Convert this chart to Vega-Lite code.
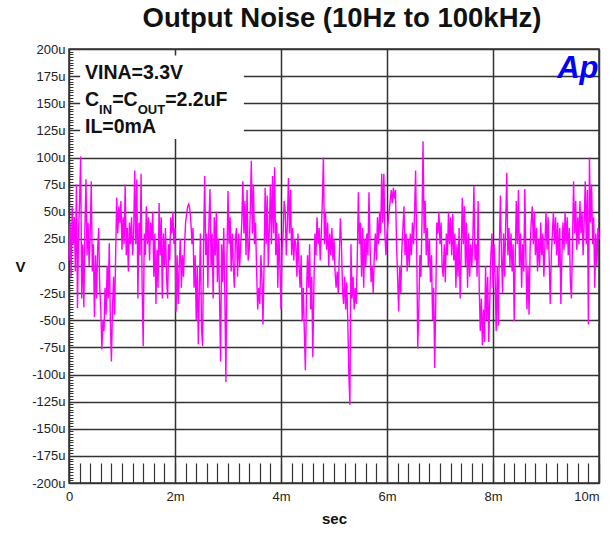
{
"$schema": "https://vega.github.io/schema/vega-lite/v6.json",
"width": 530, "height": 434,
"autosize": {"type": "none"},
"padding": {"left": 69, "top": 49, "right": 10, "bottom": 50},
"background": "white",
"title": {"text": "Output Noise (10Hz to 100kHz)", "font": "Liberation Sans", "fontSize": 27.5, "fontWeight": "bold", "color": "#111", "anchor": "middle", "frame": "group", "dx": 8, "baseline": "alphabetic", "offset": -11},
"config": {"view": {"stroke": "#333", "strokeWidth": 1.5}, "axis": {"labelFont": "Liberation Sans", "titleFont": "Liberation Sans", "labelColor": "#222", "titleColor": "#111"}},
"layer": [
{"data": {"values": [
{"t":0.00,"v":5},{"t":0.02,"v":40},{"t":0.04,"v":-10},{"t":0.06,"v":55},{"t":0.08,"v":20},{"t":0.10,"v":45},{"t":0.12,"v":-5},{"t":0.14,"v":75},{"t":0.16,"v":-39},{"t":0.18,"v":30},
{"t":0.20,"v":60},{"t":0.22,"v":101},{"t":0.24,"v":-30},{"t":0.26,"v":20},{"t":0.28,"v":-38},{"t":0.30,"v":35},{"t":0.32,"v":80},{"t":0.34,"v":10},{"t":0.36,"v":40},{"t":0.38,"v":0},
{"t":0.40,"v":30},{"t":0.42,"v":78},{"t":0.44,"v":-5},{"t":0.46,"v":20},{"t":0.48,"v":-47},{"t":0.50,"v":10},{"t":0.52,"v":-30},{"t":0.54,"v":15},{"t":0.56,"v":35},{"t":0.58,"v":-20},
{"t":0.60,"v":-40},{"t":0.62,"v":-77},{"t":0.64,"v":-50},{"t":0.66,"v":-60},{"t":0.68,"v":-20},{"t":0.70,"v":-45},{"t":0.72,"v":0},{"t":0.74,"v":-30},{"t":0.76,"v":21},{"t":0.78,"v":-50},
{"t":0.80,"v":-88},{"t":0.82,"v":-40},{"t":0.84,"v":-10},{"t":0.86,"v":-45},{"t":0.88,"v":10},{"t":0.90,"v":63},{"t":0.92,"v":30},{"t":0.94,"v":55},{"t":0.96,"v":40},{"t":0.98,"v":60},
{"t":1.00,"v":15},{"t":1.02,"v":45},{"t":1.04,"v":20},{"t":1.06,"v":75},{"t":1.08,"v":10},{"t":1.10,"v":35},{"t":1.12,"v":-5},{"t":1.14,"v":40},{"t":1.16,"v":20},{"t":1.18,"v":45},
{"t":1.20,"v":10},{"t":1.22,"v":30},{"t":1.24,"v":88},{"t":1.26,"v":20},{"t":1.28,"v":80},{"t":1.30,"v":-30},{"t":1.32,"v":40},{"t":1.34,"v":10},{"t":1.36,"v":85},{"t":1.38,"v":-20},
{"t":1.40,"v":-74},{"t":1.42,"v":30},{"t":1.44,"v":10},{"t":1.46,"v":55},{"t":1.48,"v":20},{"t":1.50,"v":45},{"t":1.52,"v":5},{"t":1.54,"v":40},{"t":1.56,"v":25},{"t":1.58,"v":50},
{"t":1.60,"v":-10},{"t":1.62,"v":30},{"t":1.64,"v":-35},{"t":1.66,"v":15},{"t":1.68,"v":-20},{"t":1.70,"v":58},{"t":1.72,"v":10},{"t":1.74,"v":45},{"t":1.76,"v":-30},{"t":1.78,"v":30},
{"t":1.80,"v":0},{"t":1.82,"v":35},{"t":1.84,"v":-10},{"t":1.86,"v":-30},{"t":1.88,"v":20},{"t":1.90,"v":5},{"t":1.92,"v":45},{"t":1.94,"v":30},{"t":1.96,"v":50},{"t":1.98,"v":20},
{"t":2.00,"v":35},{"t":2.02,"v":-42},{"t":2.04,"v":10},{"t":2.06,"v":-35},{"t":2.08,"v":0},{"t":2.10,"v":25},{"t":2.12,"v":-20},{"t":2.14,"v":10},{"t":2.16,"v":-10},{"t":2.18,"v":20},
{"t":2.20,"v":40},{"t":2.22,"v":48},{"t":2.24,"v":55},{"t":2.26,"v":57},{"t":2.28,"v":52},{"t":2.30,"v":40},{"t":2.32,"v":20},{"t":2.34,"v":35},{"t":2.36,"v":-20},{"t":2.38,"v":10},
{"t":2.40,"v":-50},{"t":2.42,"v":0},{"t":2.44,"v":-72},{"t":2.46,"v":-20},{"t":2.48,"v":30},{"t":2.50,"v":-57},{"t":2.52,"v":-74},{"t":2.54,"v":20},{"t":2.56,"v":83},{"t":2.58,"v":10},
{"t":2.60,"v":30},{"t":2.62,"v":-20},{"t":2.64,"v":40},{"t":2.66,"v":71},{"t":2.68,"v":0},{"t":2.70,"v":30},{"t":2.72,"v":-30},{"t":2.74,"v":45},{"t":2.76,"v":10},{"t":2.78,"v":50},
{"t":2.80,"v":-15},{"t":2.82,"v":25},{"t":2.84,"v":-30},{"t":2.86,"v":-88},{"t":2.88,"v":20},{"t":2.90,"v":-15},{"t":2.92,"v":35},{"t":2.94,"v":-25},{"t":2.96,"v":-107},{"t":2.98,"v":10},
{"t":3.00,"v":69},{"t":3.02,"v":20},{"t":3.04,"v":45},{"t":3.06,"v":-5},{"t":3.08,"v":30},{"t":3.10,"v":0},{"t":3.12,"v":-20},{"t":3.14,"v":25},{"t":3.16,"v":35},{"t":3.18,"v":-10},
{"t":3.20,"v":30},{"t":3.22,"v":0},{"t":3.24,"v":20},{"t":3.26,"v":40},{"t":3.28,"v":78},{"t":3.30,"v":30},{"t":3.32,"v":60},{"t":3.34,"v":10},{"t":3.36,"v":70},{"t":3.38,"v":5},
{"t":3.40,"v":15},{"t":3.42,"v":50},{"t":3.44,"v":97},{"t":3.46,"v":30},{"t":3.48,"v":75},{"t":3.50,"v":20},{"t":3.52,"v":40},{"t":3.54,"v":-5},{"t":3.56,"v":-40},{"t":3.58,"v":-20},
{"t":3.60,"v":-35},{"t":3.62,"v":10},{"t":3.64,"v":-10},{"t":3.66,"v":-54},{"t":3.68,"v":0},{"t":3.70,"v":72},{"t":3.72,"v":20},{"t":3.74,"v":65},{"t":3.76,"v":0},{"t":3.78,"v":35},
{"t":3.80,"v":75},{"t":3.82,"v":20},{"t":3.84,"v":83},{"t":3.86,"v":30},{"t":3.88,"v":91},{"t":3.90,"v":10},{"t":3.92,"v":40},{"t":3.94,"v":-20},{"t":3.96,"v":30},{"t":3.98,"v":0},
{"t":4.00,"v":-40},{"t":4.02,"v":15},{"t":4.04,"v":30},{"t":4.06,"v":60},{"t":4.08,"v":50},{"t":4.10,"v":10},{"t":4.12,"v":40},{"t":4.14,"v":81},{"t":4.16,"v":30},{"t":4.18,"v":70},
{"t":4.20,"v":10},{"t":4.22,"v":35},{"t":4.24,"v":5},{"t":4.26,"v":25},{"t":4.28,"v":20},{"t":4.30,"v":-10},{"t":4.32,"v":30},{"t":4.34,"v":0},{"t":4.36,"v":-20},{"t":4.38,"v":10},
{"t":4.40,"v":-51},{"t":4.42,"v":-20},{"t":4.44,"v":-60},{"t":4.46,"v":-96},{"t":4.48,"v":-30},{"t":4.50,"v":10},{"t":4.52,"v":-20},{"t":4.54,"v":20},{"t":4.56,"v":-40},{"t":4.58,"v":-10},
{"t":4.60,"v":-84},{"t":4.62,"v":-20},{"t":4.64,"v":30},{"t":4.66,"v":10},{"t":4.68,"v":45},{"t":4.70,"v":20},{"t":4.72,"v":35},{"t":4.74,"v":5},{"t":4.76,"v":30},{"t":4.78,"v":60},
{"t":4.80,"v":100},{"t":4.82,"v":20},{"t":4.84,"v":50},{"t":4.86,"v":15},{"t":4.88,"v":40},{"t":4.90,"v":0},{"t":4.92,"v":30},{"t":4.94,"v":10},{"t":4.96,"v":35},{"t":4.98,"v":5},
{"t":5.00,"v":25},{"t":5.02,"v":-5},{"t":5.04,"v":-20},{"t":5.06,"v":-5},{"t":5.08,"v":-25},{"t":5.10,"v":10},{"t":5.12,"v":44},{"t":5.14,"v":20},{"t":5.16,"v":-20},{"t":5.18,"v":-35},
{"t":5.20,"v":-10},{"t":5.22,"v":-40},{"t":5.24,"v":-15},{"t":5.26,"v":-50},{"t":5.28,"v":-100},{"t":5.30,"v":-128},{"t":5.32,"v":20},{"t":5.34,"v":-30},{"t":5.36,"v":-10},{"t":5.38,"v":-40},
{"t":5.40,"v":-20},{"t":5.42,"v":-35},{"t":5.44,"v":10},{"t":5.46,"v":68},{"t":5.48,"v":20},{"t":5.50,"v":40},{"t":5.52,"v":-10},{"t":5.54,"v":35},{"t":5.56,"v":-20},{"t":5.58,"v":25},
{"t":5.60,"v":0},{"t":5.62,"v":30},{"t":5.64,"v":10},{"t":5.66,"v":68},{"t":5.68,"v":20},{"t":5.70,"v":-15},{"t":5.72,"v":0},{"t":5.74,"v":-25},{"t":5.76,"v":10},{"t":5.78,"v":30},
{"t":5.80,"v":5},{"t":5.82,"v":45},{"t":5.84,"v":20},{"t":5.86,"v":50},{"t":5.88,"v":30},{"t":5.90,"v":85},{"t":5.92,"v":40},{"t":5.94,"v":85},{"t":5.96,"v":30},{"t":5.98,"v":10},
{"t":6.00,"v":30},{"t":6.02,"v":40},{"t":6.04,"v":50},{"t":6.06,"v":60},{"t":6.08,"v":70},{"t":6.10,"v":58},{"t":6.12,"v":72},{"t":6.14,"v":62},{"t":6.16,"v":70},{"t":6.18,"v":20},
{"t":6.20,"v":-10},{"t":6.22,"v":-42},{"t":6.24,"v":0},{"t":6.26,"v":-25},{"t":6.28,"v":15},{"t":6.30,"v":35},{"t":6.32,"v":55},{"t":6.34,"v":10},{"t":6.36,"v":30},{"t":6.38,"v":-5},
{"t":6.40,"v":25},{"t":6.42,"v":0},{"t":6.44,"v":30},{"t":6.46,"v":10},{"t":6.48,"v":40},{"t":6.50,"v":20},{"t":6.52,"v":50},{"t":6.54,"v":88},{"t":6.56,"v":20},{"t":6.58,"v":-76},
{"t":6.60,"v":-40},{"t":6.62,"v":10},{"t":6.64,"v":-10},{"t":6.66,"v":40},{"t":6.68,"v":115},{"t":6.70,"v":30},{"t":6.72,"v":60},{"t":6.74,"v":10},{"t":6.76,"v":35},{"t":6.78,"v":0},
{"t":6.80,"v":25},{"t":6.82,"v":-15},{"t":6.84,"v":10},{"t":6.86,"v":-50},{"t":6.88,"v":-20},{"t":6.90,"v":-94},{"t":6.92,"v":-30},{"t":6.94,"v":40},{"t":6.96,"v":30},{"t":6.98,"v":50},
{"t":7.00,"v":20},{"t":7.02,"v":40},{"t":7.04,"v":0},{"t":7.06,"v":-10},{"t":7.08,"v":20},{"t":7.10,"v":-15},{"t":7.12,"v":30},{"t":7.14,"v":10},{"t":7.16,"v":50},{"t":7.18,"v":20},
{"t":7.20,"v":45},{"t":7.22,"v":10},{"t":7.24,"v":48},{"t":7.26,"v":5},{"t":7.28,"v":30},{"t":7.30,"v":-20},{"t":7.32,"v":20},{"t":7.34,"v":-10},{"t":7.36,"v":35},{"t":7.38,"v":-30},
{"t":7.40,"v":10},{"t":7.42,"v":63},{"t":7.44,"v":20},{"t":7.46,"v":55},{"t":7.48,"v":0},{"t":7.50,"v":40},{"t":7.52,"v":-20},{"t":7.54,"v":30},{"t":7.56,"v":-10},{"t":7.58,"v":20},
{"t":7.60,"v":0},{"t":7.62,"v":25},{"t":7.64,"v":74},{"t":7.66,"v":5},{"t":7.68,"v":20},{"t":7.70,"v":-10},{"t":7.72,"v":60},{"t":7.74,"v":-20},{"t":7.76,"v":-60},{"t":7.78,"v":-30},
{"t":7.80,"v":-73},{"t":7.82,"v":-40},{"t":7.84,"v":-70},{"t":7.86,"v":0},{"t":7.88,"v":-50},{"t":7.90,"v":-10},{"t":7.92,"v":-70},{"t":7.94,"v":-30},{"t":7.96,"v":10},{"t":7.98,"v":30},
{"t":8.00,"v":-20},{"t":8.02,"v":20},{"t":8.04,"v":-10},{"t":8.06,"v":-60},{"t":8.08,"v":0},{"t":8.10,"v":-55},{"t":8.12,"v":20},{"t":8.14,"v":65},{"t":8.16,"v":10},{"t":8.18,"v":-25},
{"t":8.20,"v":30},{"t":8.22,"v":-10},{"t":8.24,"v":40},{"t":8.26,"v":86},{"t":8.28,"v":10},{"t":8.30,"v":35},{"t":8.32,"v":0},{"t":8.34,"v":30},{"t":8.36,"v":-5},{"t":8.38,"v":20},
{"t":8.40,"v":-51},{"t":8.42,"v":10},{"t":8.44,"v":60},{"t":8.46,"v":20},{"t":8.48,"v":70},{"t":8.50,"v":0},{"t":8.52,"v":30},{"t":8.54,"v":-20},{"t":8.56,"v":20},{"t":8.58,"v":-5},
{"t":8.60,"v":71},{"t":8.62,"v":10},{"t":8.64,"v":-40},{"t":8.66,"v":0},{"t":8.68,"v":-45},{"t":8.70,"v":15},{"t":8.72,"v":40},{"t":8.74,"v":55},{"t":8.76,"v":20},{"t":8.78,"v":50},
{"t":8.80,"v":10},{"t":8.82,"v":35},{"t":8.84,"v":-5},{"t":8.86,"v":25},{"t":8.88,"v":0},{"t":8.90,"v":40},{"t":8.92,"v":10},{"t":8.94,"v":30},{"t":8.96,"v":-10},{"t":8.98,"v":20},
{"t":9.00,"v":50},{"t":9.02,"v":15},{"t":9.04,"v":45},{"t":9.06,"v":5},{"t":9.08,"v":-35},{"t":9.10,"v":10},{"t":9.12,"v":30},{"t":9.14,"v":50},{"t":9.16,"v":20},{"t":9.18,"v":45},
{"t":9.20,"v":10},{"t":9.22,"v":40},{"t":9.24,"v":0},{"t":9.26,"v":35},{"t":9.28,"v":-35},{"t":9.30,"v":10},{"t":9.32,"v":40},{"t":9.34,"v":15},{"t":9.36,"v":50},{"t":9.38,"v":20},
{"t":9.40,"v":45},{"t":9.42,"v":10},{"t":9.44,"v":35},{"t":9.46,"v":-15},{"t":9.48,"v":-30},{"t":9.50,"v":20},{"t":9.52,"v":78},{"t":9.54,"v":30},{"t":9.56,"v":60},{"t":9.58,"v":15},
{"t":9.60,"v":45},{"t":9.62,"v":20},{"t":9.64,"v":60},{"t":9.66,"v":30},{"t":9.68,"v":50},{"t":9.70,"v":10},{"t":9.72,"v":40},{"t":9.74,"v":78},{"t":9.76,"v":20},{"t":9.78,"v":70},
{"t":9.80,"v":-54},{"t":9.82,"v":100},{"t":9.84,"v":40},{"t":9.86,"v":75},{"t":9.88,"v":20},{"t":9.90,"v":45},{"t":9.92,"v":-20},{"t":9.94,"v":30},{"t":9.96,"v":0},{"t":9.98,"v":35},
{"t":10.00,"v":25}
 ]},
 "mark": {"type": "line", "color": "#ff00ff", "strokeWidth": 1.4},
 "encoding": {
  "x": {"field": "t", "type": "quantitative", "scale": {"domain": [0, 10], "nice": false, "zero": false},
   "axis": {"values": [0,0.2,0.4,0.6,0.8,1,1.2,1.4,1.6,1.8,2,2.2,2.4,2.6,2.8,3,3.2,3.4,3.6,3.8,4,4.2,4.4,4.6,4.8,5,5.2,5.4,5.6,5.8,6,6.2,6.4,6.6,6.8,7,7.2,7.4,7.6,7.8,8,8.2,8.4,8.6,8.8,9,9.2,9.4,9.6,9.8,10],
    "tickCount": 500,
    "title": "sec", "titleFontSize": 15, "titleFontWeight": "bold", "titleX": 265, "titleY": 35, "titleBaseline": "middle", "titleAlign": "center",
    "labelExpr": "datum.value % 2 === 0 ? (datum.value === 0 ? '0' : datum.value + 'm') : ''",
    "labelFontSize": 13, "labelPadding": 27, "labelOverlap": false, "labelFlush": false,
    "labelAlign": {"condition": {"test": "datum.value === 10", "value": "right"}, "value": "center"},
    "tickSize": -20, "tickColor": "#333", "tickWidth": 1.2,
    "grid": true, "gridColor": "#333", "gridWidth": 1.5,
    "gridOpacity": {"condition": {"test": "datum.value % 2 === 0", "value": 1}, "value": 0},
    "domain": false}},
  "y": {"field": "v", "type": "quantitative", "scale": {"domain": [-200, 200], "nice": false, "zero": false},
   "axis": {"values": [-200,-197.5,-195,-192.5,-190,-187.5,-185,-182.5,-180,-177.5,-175,-172.5,-170,-167.5,-165,-162.5,-160,-157.5,-155,-152.5,-150,-147.5,-145,-142.5,-140,-137.5,-135,-132.5,-130,-127.5,-125,-122.5,-120,-117.5,-115,-112.5,-110,-107.5,-105,-102.5,-100,-97.5,-95,-92.5,-90,-87.5,-85,-82.5,-80,-77.5,-75,-72.5,-70,-67.5,-65,-62.5,-60,-57.5,-55,-52.5,-50,-47.5,-45,-42.5,-40,-37.5,-35,-32.5,-30,-27.5,-25,-22.5,-20,-17.5,-15,-12.5,-10,-7.5,-5,-2.5,0,2.5,5,7.5,10,12.5,15,17.5,20,22.5,25,27.5,30,32.5,35,37.5,40,42.5,45,47.5,50,52.5,55,57.5,60,62.5,65,67.5,70,72.5,75,77.5,80,82.5,85,87.5,90,92.5,95,97.5,100,102.5,105,107.5,110,112.5,115,117.5,120,122.5,125,127.5,130,132.5,135,137.5,140,142.5,145,147.5,150,152.5,155,157.5,160,162.5,165,167.5,170,172.5,175,177.5,180,182.5,185,187.5,190,192.5,195,197.5,200],
    "tickCount": 500,
    "title": "V", "titleAngle": 0, "titleX": -49, "titleY": 217, "titleAlign": "center", "titleBaseline": "middle", "titleFontSize": 15, "titleFontWeight": "bold",
    "labelExpr": "datum.value % 25 === 0 ? (datum.value === 0 ? '0' : datum.value + 'u') : ''",
    "labelFontSize": 13, "labelPadding": 15, "labelOverlap": false, "labelFlush": false,
    "tickSize": {"condition": {"test": "datum.value % 25 === 0", "value": -11}, "value": -4},
    "tickColor": "#333", "tickWidth": 1,
    "grid": true, "gridColor": "#333", "gridWidth": 1.5,
    "gridOpacity": {"condition": {"test": "datum.value % 25 === 0", "value": 1}, "value": 0},
    "domain": false}}
 }},
{"data": {"values": [{}]}, "mark": {"type": "rect", "fill": "white"},
 "encoding": {"x": {"datum": 0.21, "type": "quantitative"}, "x2": {"datum": 3.3}, "y": {"datum": 117, "type": "quantitative"}, "y2": {"datum": 194}}},
{"data": {"values": [{}]}, "mark": {"type": "text", "text": "VINA=3.3V", "font": "Liberation Sans", "fontSize": 19.5, "fontWeight": "bold", "align": "left", "baseline": "alphabetic", "color": "#111"},
 "encoding": {"x": {"datum": 0.302, "type": "quantitative"}, "y": {"datum": 172, "type": "quantitative"}}},
{"data": {"values": [{}]}, "mark": {"type": "text", "text": "C", "font": "Liberation Sans", "fontSize": 19.5, "fontWeight": "bold", "align": "left", "baseline": "alphabetic", "color": "#111"},
 "encoding": {"x": {"datum": 0.302, "type": "quantitative"}, "y": {"datum": 147.5, "type": "quantitative"}}},
{"data": {"values": [{}]}, "mark": {"type": "text", "text": "IN", "font": "Liberation Sans", "fontSize": 13, "fontWeight": "bold", "align": "left", "baseline": "alphabetic", "color": "#111"},
 "encoding": {"x": {"datum": 0.568, "type": "quantitative"}, "y": {"datum": 140.5, "type": "quantitative"}}},
{"data": {"values": [{}]}, "mark": {"type": "text", "text": "=C", "font": "Liberation Sans", "fontSize": 19.5, "fontWeight": "bold", "align": "left", "baseline": "alphabetic", "color": "#111"},
 "encoding": {"x": {"datum": 0.815, "type": "quantitative"}, "y": {"datum": 147.5, "type": "quantitative"}}},
{"data": {"values": [{}]}, "mark": {"type": "text", "text": "OUT", "font": "Liberation Sans", "fontSize": 13, "fontWeight": "bold", "align": "left", "baseline": "alphabetic", "color": "#111"},
 "encoding": {"x": {"datum": 1.296, "type": "quantitative"}, "y": {"datum": 140.5, "type": "quantitative"}}},
{"data": {"values": [{}]}, "mark": {"type": "text", "text": "=2.2uF", "font": "Liberation Sans", "fontSize": 19.5, "fontWeight": "bold", "align": "left", "baseline": "alphabetic", "color": "#111"},
 "encoding": {"x": {"datum": 1.815, "type": "quantitative"}, "y": {"datum": 147.5, "type": "quantitative"}}},
{"data": {"values": [{}]}, "mark": {"type": "text", "text": "IL=0mA", "font": "Liberation Sans", "fontSize": 19.5, "fontWeight": "bold", "align": "left", "baseline": "alphabetic", "color": "#111"},
 "encoding": {"x": {"datum": 0.302, "type": "quantitative"}, "y": {"datum": 122.6, "type": "quantitative"}}},
{"data": {"values": [{}]}, "mark": {"type": "text", "text": "Ap", "font": "Liberation Sans", "fontSize": 31, "fontWeight": "bold", "fontStyle": "italic", "align": "center", "baseline": "alphabetic", "color": "#0000ff"},
 "encoding": {"x": {"datum": 9.6, "type": "quantitative"}, "y": {"datum": 173, "type": "quantitative"}}}
]
}
